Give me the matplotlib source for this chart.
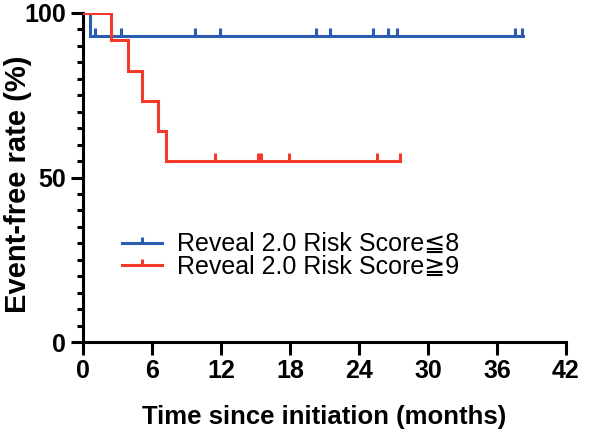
import matplotlib
matplotlib.use("Agg")
import matplotlib.pyplot as plt
from matplotlib.path import Path
from matplotlib.lines import Line2D

# Kaplan-Meier step data (time in months, survival %)
low_times = [0, 0.6, 38.3]
low_surv = [100, 92.86, 92.86]
low_censor = [1.0, 3.3, 9.7, 11.9, 20.3, 21.5, 25.2, 26.5, 27.3, 37.6, 38.2]

high_times = [0, 2.4, 3.9, 5.1, 6.5, 7.2, 27.6]
high_surv = [100, 91.67, 82.5, 73.33, 64.17, 55.0, 55.0]
high_censor = [11.5, 15.2, 15.5, 17.9, 25.6, 27.6]

labels = ["Reveal 2.0 Risk Score\u22668", "Reveal 2.0 Risk Score\u22679"]
colors = ["#2b5cb3", "#f23a2b"]

x_ticks = [0, 6, 12, 18, 24, 30, 36, 42]
y_ticks = [0, 50, 100]

plt.rcParams['font.family'] = ['Liberation Sans', 'DejaVu Sans']

fig = plt.figure(figsize=(5.95, 4.34), dpi=100)
ax = fig.add_axes([83/595, 92/434, (566-83)/595, (342-13)/434])

tick_marker = Path([(0, 0), (0, 1)], [Path.MOVETO, Path.LINETO])

def surv_at(times, surv, t):
    val = surv[0]
    for ti, si in zip(times, surv):
        if ti <= t:
            val = si
    return val

LW = 2.2
for times, surv, cens, col in [
    (low_times, low_surv, low_censor, colors[0]),
    (high_times, high_surv, high_censor, colors[1]),
]:
    ax.step(times, surv, where='post', color=col, lw=LW, solid_joinstyle='miter', zorder=3)
    cy = [surv_at(times, surv, t) for t in cens]
    ax.plot(cens, cy, linestyle='none', marker=tick_marker, markersize=11,
            markeredgewidth=LW, color=col, zorder=3)

ax.set_xlim(0, 42)
ax.set_ylim(0, 100)
ax.set_xticks(x_ticks)
ax.set_yticks(y_ticks)
ax.set_yticks(range(0, 101, 5), minor=True)
ax.spines['top'].set_visible(False)
ax.spines['right'].set_visible(False)
for s in ['left', 'bottom']:
    ax.spines[s].set_linewidth(2.2)
    ax.spines[s].set_color('black')
ax.tick_params(axis='both', which='major', length=9, width=2.2, direction='out',
               labelsize=18, pad=3)
ax.tick_params(axis='y', which='minor', length=4.5, width=2.2, direction='out')
for lbl in ax.get_xticklabels() + ax.get_yticklabels():
    lbl.set_fontweight('bold')

ax.set_xlabel("Time since initiation (months)", fontsize=18.5, fontweight='bold', labelpad=16)
ax.set_ylabel("Event-free rate (%)", fontsize=21, fontweight='bold')
ax.yaxis.set_label_coords(-0.106, 0.48)

handles = [Line2D([0, 1], [0, 0], color=c, lw=LW, marker=tick_marker,
                  markersize=9, markeredgewidth=LW) for c in colors]
leg = ax.legend(handles, labels, loc='lower left', bbox_to_anchor=(0.06, 0.161),
                frameon=False, fontsize=18, handlelength=1.6, handletextpad=0.6,
                labelspacing=-0.05, borderaxespad=0, numpoints=1)

fig.savefig("out.png", dpi=100)
